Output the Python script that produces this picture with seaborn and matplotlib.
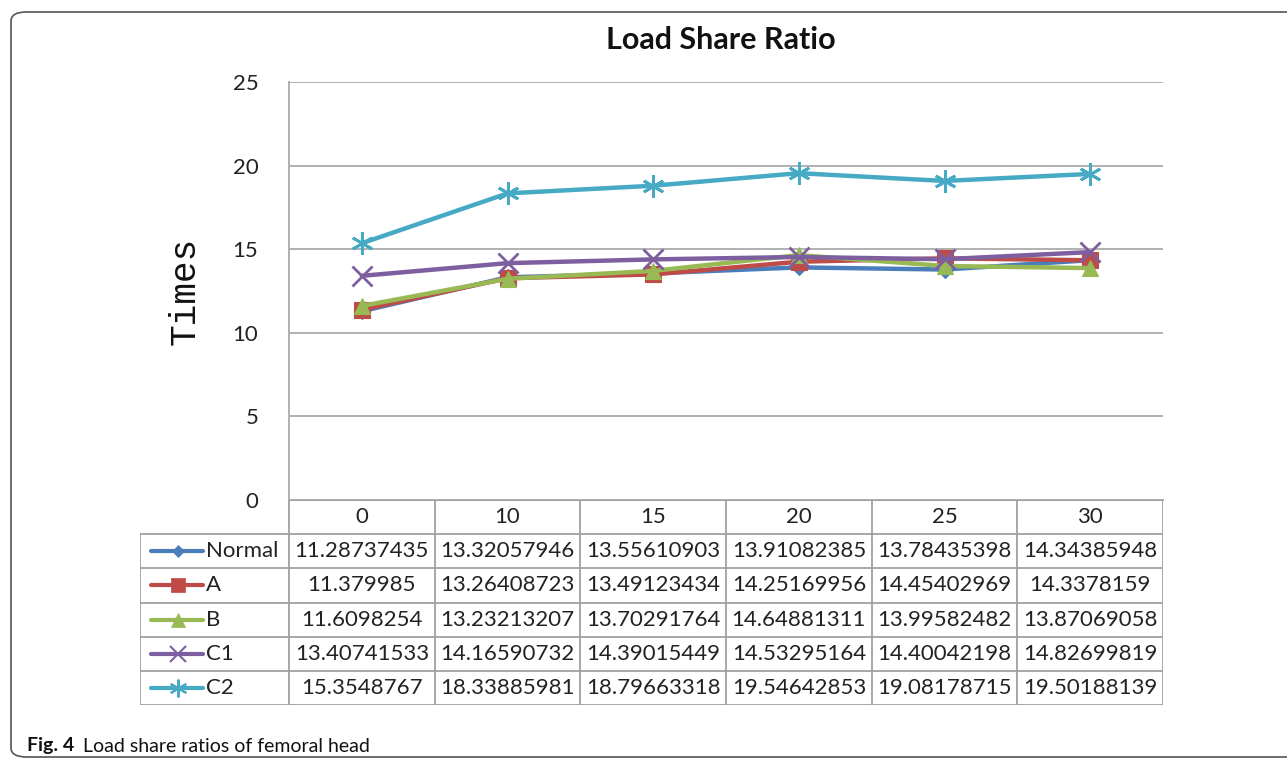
import matplotlib
matplotlib.use("Agg")
import matplotlib.pyplot as plt
import pandas as pd
import seaborn as sns
from matplotlib.patches import FancyBboxPatch

categories = ["0", "10", "15", "20", "25", "30"]
series_names = ["Normal", "A", "B", "C1", "C2"]
normal = [11.28737435, 13.32057946, 13.55610903, 13.91082385, 13.78435398, 14.34385948]
a_vals = [11.379985, 13.26408723, 13.49123434, 14.25169956, 14.45402969, 14.3378159]
b_vals = [11.6098254, 13.23213207, 13.70291764, 14.64881311, 13.99582482, 13.87069058]
c1_vals = [13.40741533, 14.16590732, 14.39015449, 14.53295164, 14.40042198, 14.82699819]
c2_vals = [15.3548767, 18.33885981, 18.79663318, 19.54642853, 19.08178715, 19.50188139]
table_text = {
    "Normal": ["11.28737435", "13.32057946", "13.55610903", "13.91082385", "13.78435398", "14.34385948"],
    "A": ["11.379985", "13.26408723", "13.49123434", "14.25169956", "14.45402969", "14.3378159"],
    "B": ["11.6098254", "13.23213207", "13.70291764", "14.64881311", "13.99582482", "13.87069058"],
    "C1": ["13.40741533", "14.16590732", "14.39015449", "14.53295164", "14.40042198", "14.82699819"],
    "C2": ["15.3548767", "18.33885981", "18.79663318", "19.54642853", "19.08178715", "19.50188139"],
}
y_ticks = [0, 5, 10, 15, 20, 25]

colors = {"Normal": "#4a7ebb", "A": "#be4b48", "B": "#98b954", "C1": "#7d5fa0", "C2": "#46aac5"}
markers = {"Normal": "D", "A": "s", "B": "^", "C1": "x", "C2": (6, 2, 0)}
msize = {"Normal": 8, "A": 12, "B": 12, "C1": 14, "C2": 16}

sns.set_style("white")
plt.rcParams["font.family"] = ["Lato", "DejaVu Sans"]

W, H = 1287, 761
fig = plt.figure(figsize=(W / 100, H / 100), dpi=100)


def rect(x0, y0, x1, y1):
    return [x0 / W, 1 - y1 / H, (x1 - x0) / W, (y1 - y0) / H]


# frame
frame = FancyBboxPatch((11 / W, 4 / H), 1.2, (757 - 12) / H,
                       boxstyle="round,pad=0,rounding_size=0.012",
                       transform=fig.transFigure, fill=False,
                       edgecolor="#555555", lw=1.2)
fig.patches.append(frame)

ax = fig.add_axes(rect(289, 82, 1163, 500))
df = pd.DataFrame({
    "x": list(range(len(categories))) * 5,
    "value": normal + a_vals + b_vals + c1_vals + c2_vals,
    "series": [s for s in series_names for _ in categories],
})
for name in series_names:
    sub = df[df["series"] == name]
    sns.lineplot(data=sub, x="x", y="value", ax=ax, color=colors[name], lw=3.2,
                 marker=markers[name], markersize=msize[name],
                 markeredgewidth=2 if name in ("C1", "C2") else 0.8,
                 markeredgecolor=colors[name], legend=False)
ax.set_xlim(-0.5, 5.5)
ax.set_ylim(0, 25)
ax.set_yticks(y_ticks)
ax.set_yticklabels([str(t) for t in y_ticks], fontsize=16, color="#222222")
ax.tick_params(axis="y", length=0, pad=22)
ax.set_xticks([])
ax.set_xlabel("")
ax.set_ylabel("Times", family="Liberation Mono", fontsize=26, labelpad=22,
              color="#111111")
ax.grid(axis="y", color="#b0b0b0", lw=1.4)
for side in ["top", "right"]:
    ax.spines[side].set_visible(False)
ax.spines["left"].set_color("#b0b0b0")
ax.spines["left"].set_linewidth(1.4)
ax.spines["bottom"].set_color("#b0b0b0")
ax.spines["bottom"].set_linewidth(1.4)

fig.text(721 / W, 1 - 40 / H, "Load Share Ratio", ha="center", va="center",
         fontsize=22, fontweight="bold", color="#111111")

# data table
col_w = 874 / 6
leg_w = (289 - 140) / col_w
tab = fig.add_axes(rect(140, 500, 1163, 705))
tab.set_xlim(-0.5 - leg_w, 5.5)
tab.set_ylim(6, 0)
tab.axis("off")
grid_kw = dict(color="#a0a0a0", lw=1.3)
tab.hlines(0, -0.5, 5.5, **grid_kw)
tab.hlines(range(1, 7), -0.5 - leg_w, 5.5, **grid_kw)
tab.vlines([i - 0.5 for i in range(7)], 0, 6, **grid_kw)
tab.vlines(-0.5 - leg_w, 1, 6, **grid_kw)
for i, c in enumerate(categories):
    tab.text(i, 0.5, c, ha="center", va="center", fontsize=16, color="#222222")
for r, name in enumerate(series_names, start=1):
    for i, t in enumerate(table_text[name]):
        tab.text(i, r + 0.5, t, ha="center", va="center", fontsize=16, color="#222222")
    x0 = -0.5 - leg_w
    tab.plot([x0 + 0.075, x0 + 0.43], [r + 0.5, r + 0.5], color=colors[name], lw=3,
             solid_capstyle="round")
    tab.plot([x0 + 0.26], [r + 0.5], color=colors[name], marker=markers[name],
             markersize=msize[name] * 0.8,
             markeredgewidth=1.5 if name in ("C1", "C2") else 0.5,
             markeredgecolor=colors[name])
    tab.text(x0 + 0.45, r + 0.5, name, ha="left", va="center", fontsize=16,
             color="#222222")

fig.text(27 / W, 1 - 746 / H, "Fig. 4", ha="left", va="center", fontsize=14,
         fontweight="bold", color="#111111")
fig.text(83 / W, 1 - 746 / H, "Load share ratios of femoral head", ha="left",
         va="center", fontsize=14, color="#111111")

fig.savefig("out.png", dpi=100)
